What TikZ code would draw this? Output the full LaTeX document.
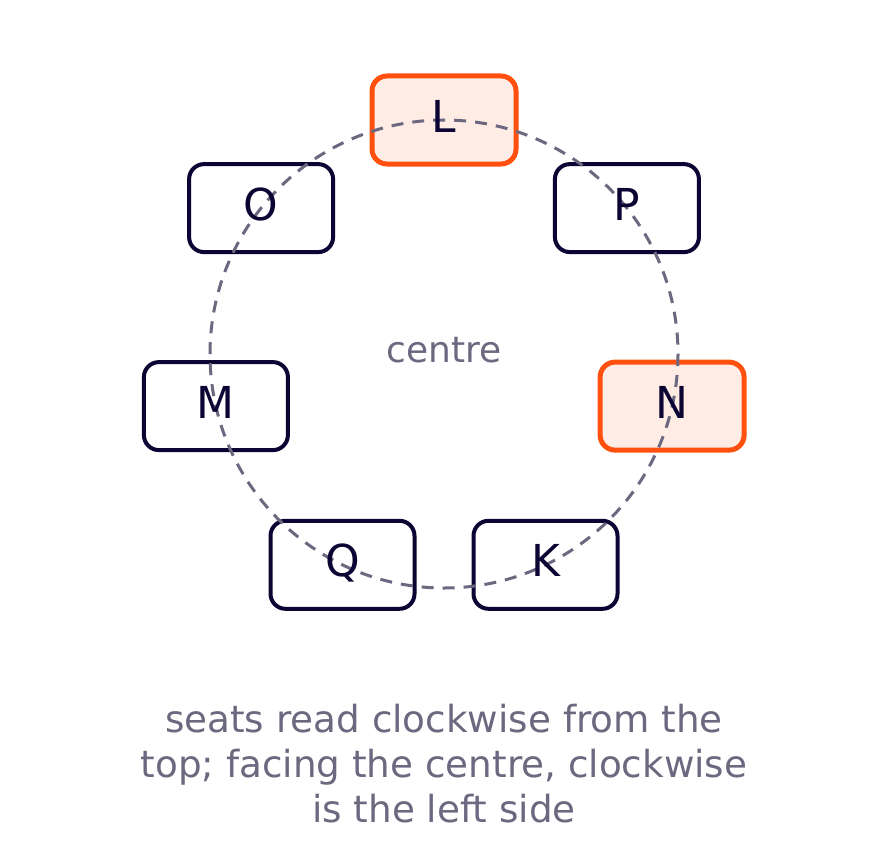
\documentclass[tikz,border=0pt]{standalone}
\usepackage{fontspec}
\setmainfont{DejaVu Sans}
\definecolor{ink}{HTML}{0C0433}
\definecolor{hot}{HTML}{FF5010}
\definecolor{hotfill}{HTML}{FFEDE5}
\definecolor{muted}{HTML}{6B6880}
\tikzset{
  seat/.style={draw=ink, line width=4pt, fill=white, rounded corners=15pt,
    minimum width=144pt, minimum height=88pt, inner sep=0pt},
  hotseat/.style={seat, draw=hot, fill=hotfill, line width=5pt},
  seatlabel/.style={text=ink, font=\fontsize{44}{52}\selectfont, anchor=base, inner sep=0pt},
  ring/.style={draw=muted, line width=3pt, dash pattern=on 12pt off 9pt},
  note/.style={text=muted, inner sep=0pt}
}
\begin{document}
\begin{tikzpicture}[x=1pt, y=-1pt]
\path[use as bounding box, fill=white] (0,0) rectangle (888,864);
\node[hotseat] (L) at (444,120) {};
\node[seat] (P) at (626.9,208.1) {};
\node[hotseat] (N) at (672.1,406.1) {};
\node[seat] (K) at (545.5,564.8) {};
\node[seat] (Q) at (342.5,564.8) {};
\node[seat] (M) at (215.9,406.1) {};
\node[seat] (O) at (261.1,208.1) {};
\coordinate (c) at (444,354);
\draw[ring] (c) circle[radius=234];
\foreach \s in {L,P,N,K,Q,M,O}{
  \node[seatlabel] at ([yshift=-12pt]\s.center) {\s};
}
\node[note, anchor=base, font=\fontsize{36}{43}\selectfont] (centre) at (444,362) {centre};
\node[note, align=center, font=\fontsize{37.3}{45}\selectfont] (cap) at (444,764)
  {seats read clockwise from the\\top; facing the centre, clockwise\\is the left side};
\end{tikzpicture}
\end{document}
